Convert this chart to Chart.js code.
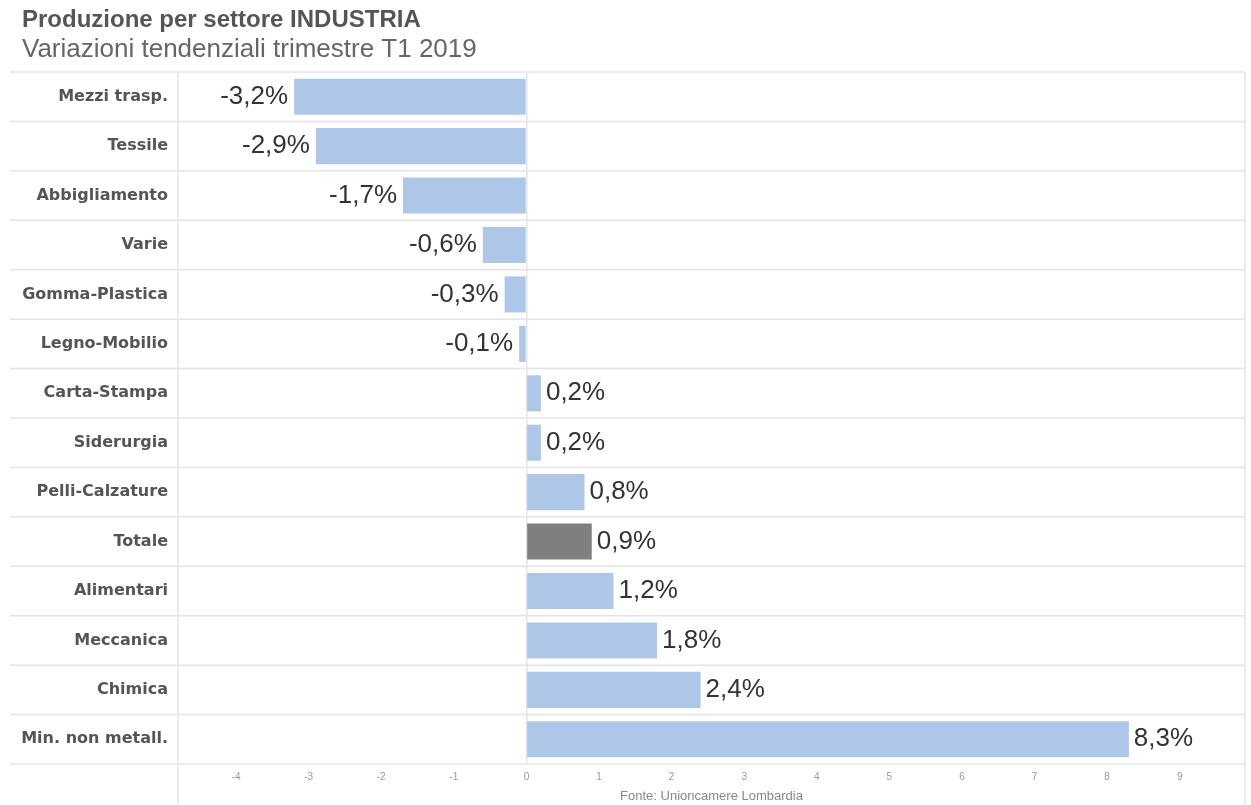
<!DOCTYPE html>
<html lang="it">
<head>
<meta charset="UTF-8">
<title>Produzione per settore INDUSTRIA</title>
<style>
  body {
    margin: 0;
    background: #fff;
  }
  #box {
    position: relative;
    width: 1251px;
    height: 805px;
  }
</style>
<script src="https://cdn.jsdelivr.net/npm/chart.js@4.4.1/dist/chart.umd.min.js"></script>
</head>
<body>
<div id="box">
  <canvas id="settoriChart"></canvas>
</div>

<script>
// settori e variazioni tendenziali % (T1 2019)
const settori = ['Mezzi trasp.', 'Tessile', 'Abbigliamento', 'Varie', 'Gomma-Plastica', 'Legno-Mobilio',
  'Carta-Stampa', 'Siderurgia', 'Pelli-Calzature', 'Totale', 'Alimentari', 'Meccanica', 'Chimica', 'Min. non metall.'];
const variazioni = [-3.2, -2.9, -1.7, -0.6, -0.3, -0.1, 0.2, 0.2, 0.8, 0.9, 1.2, 1.8, 2.4, 8.3];
const tickAsseX = [-4, -3, -2, -1, 0, 1, 2, 3, 4, 5, 6, 7, 8, 9];

const BLU = '#aec7e8';
const GRIGIO = '#7f7f7f';
const LINEA = '#e4e4e4';

// righe di separazione e bordi verticali (anche sotto le etichette)
const griglia = {
  id: 'griglia',
  beforeDatasetsDraw(chart) {
    const {ctx, chartArea, scales: {y}} = chart;
    const passo = y.getPixelForValue(1) - y.getPixelForValue(0);
    ctx.save();
    ctx.strokeStyle = LINEA;
    ctx.lineWidth = 1.5;
    for (let i = 0; i <= settori.length; i++) {
      const py = y.getPixelForValue(i) - passo / 2;
      ctx.beginPath();
      ctx.moveTo(10, py);
      ctx.lineTo(chartArea.right, py);
      ctx.stroke();
    }
    [chartArea.left, chartArea.right].forEach(px => {
      ctx.beginPath();
      ctx.moveTo(px, chartArea.top);
      ctx.lineTo(px, chart.height);
      ctx.stroke();
    });
    ctx.restore();
  }
};

// etichette dei valori a fine barra
const valori = {
  id: 'valori',
  afterDatasetsDraw(chart) {
    const {ctx} = chart;
    const meta = chart.getDatasetMeta(0);
    ctx.save();
    ctx.font = '26px "Liberation Sans", Arial, sans-serif';
    ctx.fillStyle = '#333';
    ctx.textBaseline = 'middle';
    meta.data.forEach((bar, i) => {
      const v = variazioni[i];
      const txt = v.toFixed(1).replace('.', ',') + '%';
      if (v < 0) {
        ctx.textAlign = 'right';
        ctx.fillText(txt, bar.x - 6, bar.y);
      } else {
        ctx.textAlign = 'left';
        ctx.fillText(txt, bar.x + 5, bar.y);
      }
    });
    ctx.restore();
  }
};

new Chart(document.getElementById('settoriChart'), {
  type: 'bar',
  data: {
    labels: settori,
    datasets: [{
      data: variazioni,
      backgroundColor: settori.map(s => s === 'Totale' ? GRIGIO : BLU),
      borderWidth: 0,
      barPercentage: 0.73,
      categoryPercentage: 1
    }]
  },
  options: {
    indexAxis: 'y',
    responsive: true,
    maintainAspectRatio: false,
    animation: false,
    layout: { padding: { left: 22, right: 6, top: 0, bottom: 0 } },
    plugins: {
      legend: { display: false },
      tooltip: { enabled: false },
      title: {
        display: true,
        text: 'Produzione per settore INDUSTRIA',
        align: 'start',
        color: '#555',
        font: { family: '"Liberation Sans", Arial, sans-serif', size: 24, weight: 'bold' },
        padding: { top: 6, bottom: 0 }
      },
      subtitle: {
        display: true,
        text: 'Variazioni tendenziali trimestre T1 2019',
        align: 'start',
        color: '#666',
        font: { family: '"Liberation Sans", Arial, sans-serif', size: 26 },
        padding: { top: -1, bottom: 7 }
      }
    },
    scales: {
      x: {
        type: 'linear',
        min: -4.8,
        max: 9.9,
        afterBuildTicks: scale => { scale.ticks = tickAsseX.map(v => ({ value: v })); },
        afterFit: scale => { scale.height = 41; },
        grid: {
          drawTicks: false,
          color: c => (c.tick && c.tick.value === 0) ? LINEA : 'transparent',
          lineWidth: 1.5
        },
        border: { display: false },
        ticks: {
          padding: 7,
          color: '#999',
          font: { family: '"Liberation Sans", Arial, sans-serif', size: 10 },
          callback: v => String(v)
        },
        title: {
          display: true,
          text: 'Fonte: Unioncamere Lombardia',
          color: '#888',
          font: { family: '"Liberation Sans", Arial, sans-serif', size: 13 },
          padding: { top: 0, bottom: 1 }
        }
      },
      y: {
        afterFit: scale => { scale.width = 156; },
        grid: { display: false, drawTicks: false },
        border: { display: false },
        ticks: {
          padding: 10,
          color: '#555',
          font: { family: '"DejaVu Sans", sans-serif', size: 16, weight: 'bold' }
        }
      }
    }
  },
  plugins: [griglia, valori]
});
</script>
</body>
</html>
